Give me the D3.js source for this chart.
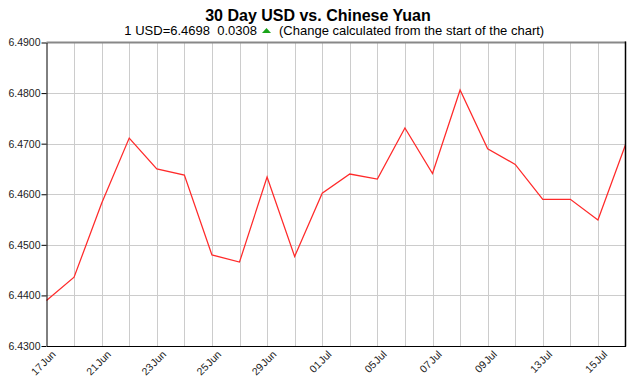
<!DOCTYPE html>
<html><head><meta charset="utf-8">
<script src="https://cdn.jsdelivr.net/npm/d3@7"></script>
<style>
body{margin:0;background:#fff;}
text{font-family:"Liberation Sans",Arial,sans-serif;}
</style></head>
<body><svg id="c" width="636" height="378"></svg>
<script>
const dates = ["17 Jun","20 Jun","21 Jun","22 Jun","23 Jun","24 Jun","25 Jun","28 Jun","29 Jun","30 Jun","01 Jul","04 Jul","05 Jul","06 Jul","07 Jul","08 Jul","09 Jul","12 Jul","13 Jul","14 Jul","15 Jul","16 Jul"];
const rates = [6.4390,6.4436,6.4582,6.4711,6.4650,6.4638,6.4480,6.4466,6.4634,6.4477,6.4602,6.4640,6.4630,6.4731,6.4641,6.4806,6.4690,6.4659,6.4590,6.4590,6.4549,6.4698];
const yTicks = [6.43,6.44,6.45,6.46,6.47,6.48,6.49];
const xLabels = ["17 Jun","21 Jun","23 Jun","25 Jun","29 Jun","01 Jul","05 Jul","07 Jul","09 Jul","13 Jul","15 Jul"];
const title = "30 Day USD vs. Chinese Yuan";
const subLeft = "1 USD=6.4698  0.0308";
const subRight = "(Change calculated from the start of the chart)";

const svg = d3.select("#c");
const L=46.5, R=625.5, T=42.5, B=346;
const x = d3.scalePoint().domain(dates).range([L,R]);
const y = d3.scaleLinear().domain([6.43,6.49]).range([B,T]);

// grid
const g = svg.append("g");
g.selectAll("line.v").data(dates.slice(1,-1)).enter().append("line")
 .attr("x1",d=>Math.round(x(d))+0.5).attr("x2",d=>Math.round(x(d))+0.5).attr("y1",T).attr("y2",B)
 .attr("stroke","#cccccc").attr("stroke-width",1);
g.selectAll("line.h").data(yTicks.slice(1,-1)).enter().append("line")
 .attr("y1",d=>Math.round(y(d))+0.5).attr("y2",d=>Math.round(y(d))+0.5).attr("x1",L).attr("x2",R)
 .attr("stroke","#cccccc").attr("stroke-width",1);

// line
svg.append("path").datum(rates)
 .attr("d",d3.line().x((d,i)=>x(dates[i])).y(d=>y(d)))
 .attr("fill","none").attr("stroke","#ff2a2a").attr("stroke-width",1.25);

// borders
svg.append("line").attr("x1",L).attr("x2",R+0.5).attr("y1",T).attr("y2",T).attr("stroke","#888").attr("stroke-width",2);
svg.append("line").attr("x1",R).attr("x2",R).attr("y1",T-1).attr("y2",B+0.5).attr("stroke","#000").attr("stroke-width",1.5);

// y axis
const ya = svg.append("g").attr("transform",`translate(${L},0)`)
 .call(d3.axisLeft(y).tickValues(yTicks).tickFormat(d3.format(".4f")).tickSize(5).tickSizeOuter(0));
ya.select(".domain").attr("stroke","#000");
ya.selectAll("text").attr("font-size","10.5px").attr("fill","#222").attr("x",-6);

// x axis
const xa = svg.append("g").attr("transform",`translate(0,${B})`)
 .call(d3.axisBottom(x).tickValues(xLabels).tickSize(0).tickSizeOuter(0).tickFormat(d=>d));
xa.select(".domain").attr("stroke","#000");
xa.selectAll("text").attr("font-size","10.5px").attr("fill","#222").attr("word-spacing","-2px")
 .attr("text-anchor","end").attr("dy",0).attr("y",0)
 .attr("transform","translate(9.5,9) rotate(-45)");

// titles
svg.append("text").attr("x",318).attr("y",21).attr("text-anchor","middle")
 .attr("font-size","16px").attr("font-weight","bold").attr("fill","#000").text(title);
svg.append("text").attr("x",257).attr("y",35).attr("text-anchor","end")
 .attr("font-size","13px").attr("fill","#000").attr("xml:space","preserve").style("white-space","pre").text(subLeft);
svg.append("path").attr("d","M262,33 L271,33 L266.5,28 Z").attr("fill","#1aa51a");
svg.append("text").attr("x",279).attr("y",35).attr("text-anchor","start")
 .attr("font-size","13px").attr("fill","#000").text(subRight);
</script></body></html>
